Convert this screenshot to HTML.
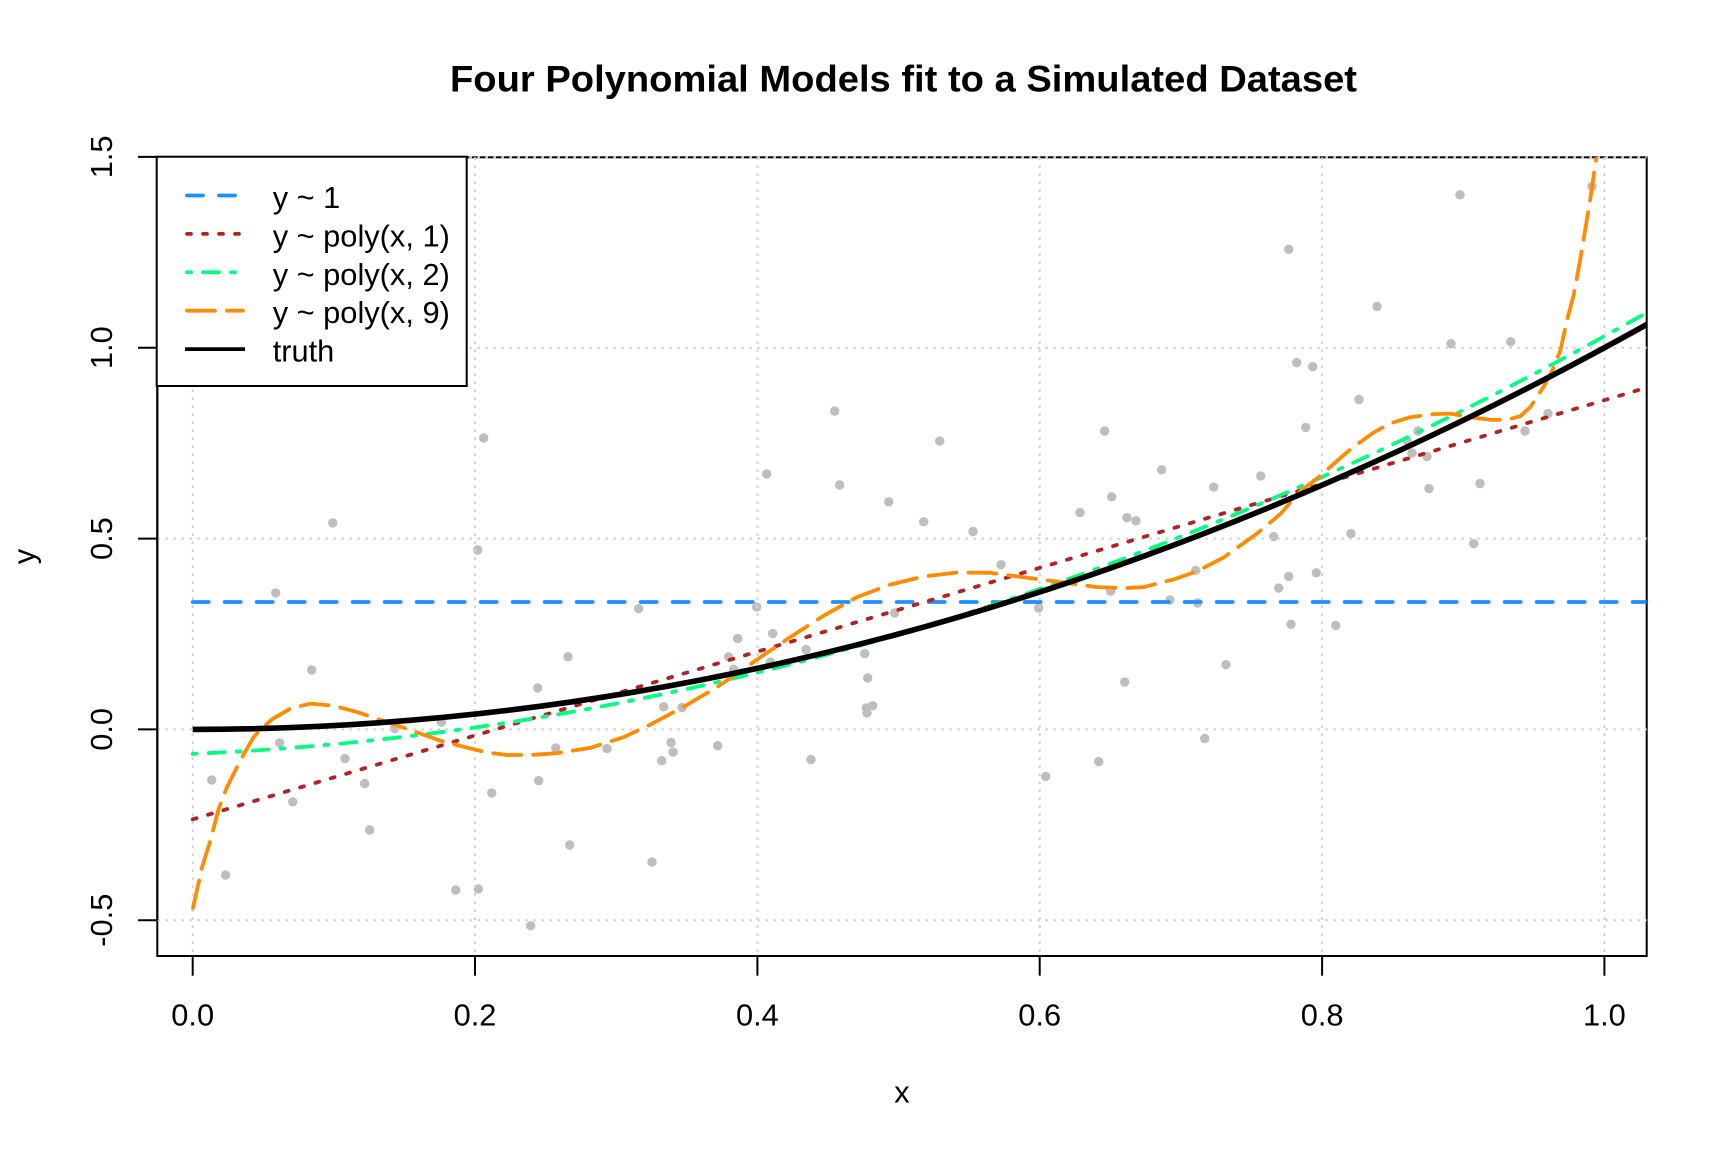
<!DOCTYPE html>
<html>
<head>
<meta charset="utf-8">
<style>
html,body{margin:0;padding:0;background:#fff;}
svg{display:block;}
text{font-family:"Liberation Sans",Arial,sans-serif;fill:#000;}
</style>
</head>
<body>
<svg width="1728" height="1152" viewBox="0 0 1728 1152" xmlns="http://www.w3.org/2000/svg">
<defs>
<clipPath id="pr"><rect x="157.3" y="157.3" width="1489.4" height="798.7"/></clipPath>
</defs>
<rect width="1728" height="1152" fill="#fff"/>

<!-- title -->
<text x="450" y="91.5" font-size="37.5" font-weight="bold" textLength="907" lengthAdjust="spacingAndGlyphs">Four Polynomial Models fit to a Simulated Dataset</text>

<!-- points -->
<g fill="#BEBEBE" clip-path="url(#pr)">
<circle cx="483.7" cy="437.9" r="4.7"/><circle cx="332.7" cy="522.9" r="4.7"/><circle cx="477.7" cy="550" r="4.7"/><circle cx="275.7" cy="592.9" r="4.7"/><circle cx="311.7" cy="670" r="4.7"/><circle cx="537.7" cy="687.9" r="4.7"/><circle cx="441.3" cy="722.1" r="4.7"/><circle cx="394.7" cy="728.6" r="4.7"/><circle cx="279.7" cy="742.9" r="4.7"/><circle cx="555.7" cy="747.9" r="4.7"/><circle cx="345" cy="758.6" r="4.7"/><circle cx="211.7" cy="780" r="4.7"/><circle cx="538.7" cy="780.7" r="4.7"/><circle cx="364.7" cy="783.6" r="4.7"/><circle cx="491.7" cy="792.9" r="4.7"/><circle cx="292.7" cy="801.8" r="4.7"/><circle cx="369.7" cy="830" r="4.7"/><circle cx="225.7" cy="875" r="4.7"/><circle cx="455.7" cy="890" r="4.7"/><circle cx="478.3" cy="888.9" r="4.7"/><circle cx="530.7" cy="925.7" r="4.7"/>
<circle cx="834.7" cy="411.1" r="4.7"/><circle cx="939.7" cy="441.1" r="4.7"/><circle cx="766.7" cy="473.9" r="4.7"/><circle cx="839.7" cy="485" r="4.7"/><circle cx="888.7" cy="501.8" r="4.7"/><circle cx="923.7" cy="521.8" r="4.7"/><circle cx="638.7" cy="608.6" r="4.7"/><circle cx="756.7" cy="607.1" r="4.7"/><circle cx="894.7" cy="612.9" r="4.7"/><circle cx="772.7" cy="633.6" r="4.7"/><circle cx="737.7" cy="638.6" r="4.7"/><circle cx="568" cy="656.8" r="4.7"/><circle cx="728.7" cy="656.8" r="4.7"/><circle cx="806" cy="649.6" r="4.7"/><circle cx="864.7" cy="653.6" r="4.7"/><circle cx="733.7" cy="669.3" r="4.7"/><circle cx="770.3" cy="662.1" r="4.7"/><circle cx="867.7" cy="677.9" r="4.7"/><circle cx="663.7" cy="706.8" r="4.7"/><circle cx="682" cy="707.5" r="4.7"/><circle cx="866.3" cy="707.9" r="4.7"/><circle cx="872.7" cy="705.7" r="4.7"/><circle cx="867" cy="712.9" r="4.7"/><circle cx="607" cy="748.6" r="4.7"/><circle cx="671" cy="742.5" r="4.7"/><circle cx="673" cy="752.1" r="4.7"/><circle cx="717.7" cy="745.7" r="4.7"/><circle cx="661.7" cy="760.7" r="4.7"/><circle cx="811" cy="759.6" r="4.7"/><circle cx="569.7" cy="845" r="4.7"/><circle cx="652" cy="862.1" r="4.7"/>
<circle cx="1288.7" cy="249.3" r="4.7"/><circle cx="1296.7" cy="362.6" r="4.7"/><circle cx="1312.7" cy="366.7" r="4.7"/><circle cx="1359" cy="399.5" r="4.7"/><circle cx="1305.7" cy="427.4" r="4.7"/><circle cx="1104.7" cy="431" r="4.7"/><circle cx="1161.7" cy="469.8" r="4.7"/><circle cx="1260.7" cy="475.9" r="4.7"/><circle cx="1111.7" cy="496.8" r="4.7"/><circle cx="1213.7" cy="487.1" r="4.7"/><circle cx="1080" cy="512.6" r="4.7"/><circle cx="1127" cy="517.7" r="4.7"/><circle cx="1136" cy="520.8" r="4.7"/><circle cx="973" cy="531.5" r="4.7"/><circle cx="1273.7" cy="536.6" r="4.7"/><circle cx="1351" cy="533.5" r="4.7"/><circle cx="1001" cy="564.7" r="4.7"/><circle cx="1195.7" cy="570.3" r="4.7"/><circle cx="1288.7" cy="576.4" r="4.7"/><circle cx="1316.3" cy="572.8" r="4.7"/><circle cx="1278.7" cy="588.1" r="4.7"/><circle cx="1110.7" cy="591.2" r="4.7"/><circle cx="1170" cy="599.9" r="4.7"/><circle cx="1038.7" cy="608" r="4.7"/><circle cx="1197.7" cy="602.9" r="4.7"/><circle cx="1291" cy="624.3" r="4.7"/><circle cx="1335.7" cy="625.4" r="4.7"/><circle cx="1226" cy="664.7" r="4.7"/><circle cx="1124.7" cy="682" r="4.7"/><circle cx="1204.7" cy="738.6" r="4.7"/><circle cx="1098.7" cy="761.6" r="4.7"/><circle cx="1045.7" cy="776.4" r="4.7"/>
<circle cx="1460" cy="194.8" r="4.7"/><circle cx="1592" cy="186.6" r="4.7"/><circle cx="1377" cy="306.5" r="4.7"/><circle cx="1451" cy="343.7" r="4.7"/><circle cx="1510.7" cy="341.7" r="4.7"/><circle cx="1407" cy="440.7" r="4.7"/><circle cx="1418" cy="431" r="4.7"/><circle cx="1412" cy="452.9" r="4.7"/><circle cx="1427" cy="456.5" r="4.7"/><circle cx="1548" cy="413.6" r="4.7"/><circle cx="1525" cy="431" r="4.7"/><circle cx="1429" cy="488.6" r="4.7"/><circle cx="1480" cy="483.5" r="4.7"/><circle cx="1473.7" cy="543.7" r="4.7"/>
</g>

<!-- box -->
<rect x="157.3" y="157.3" width="1489.4" height="798.7" fill="none" stroke="#000" stroke-width="2"/>

<!-- grid -->
<g stroke="#D3D3D3" stroke-width="2" stroke-dasharray="2.7 5.3" fill="none">
<line x1="192.7" y1="157.3" x2="192.7" y2="956"/>
<line x1="475" y1="157.3" x2="475" y2="956"/>
<line x1="757.4" y1="157.3" x2="757.4" y2="956"/>
<line x1="1039.7" y1="157.3" x2="1039.7" y2="956"/>
<line x1="1322.1" y1="157.3" x2="1322.1" y2="956"/>
<line x1="1604.4" y1="157.3" x2="1604.4" y2="956"/>
<line x1="157.3" y1="920.2" x2="1646.7" y2="920.2"/>
<line x1="157.3" y1="729.4" x2="1646.7" y2="729.4"/>
<line x1="157.3" y1="538.6" x2="1646.7" y2="538.6"/>
<line x1="157.3" y1="347.7" x2="1646.7" y2="347.7"/>
<line x1="157.3" y1="157.3" x2="1646.7" y2="157.3"/>
</g>

<!-- axes ticks -->
<g stroke="#000" stroke-width="2" fill="none">
<line x1="192.7" y1="956" x2="1604.4" y2="956"/>
<line x1="192.7" y1="956" x2="192.7" y2="975.7"/>
<line x1="475" y1="956" x2="475" y2="975.7"/>
<line x1="757.4" y1="956" x2="757.4" y2="975.7"/>
<line x1="1039.7" y1="956" x2="1039.7" y2="975.7"/>
<line x1="1322.1" y1="956" x2="1322.1" y2="975.7"/>
<line x1="1604.4" y1="956" x2="1604.4" y2="975.7"/>
<line x1="157.3" y1="156.9" x2="157.3" y2="920.2"/>
<line x1="138" y1="920.2" x2="157.3" y2="920.2"/>
<line x1="138" y1="729.4" x2="157.3" y2="729.4"/>
<line x1="138" y1="538.6" x2="157.3" y2="538.6"/>
<line x1="138" y1="347.7" x2="157.3" y2="347.7"/>
<line x1="138" y1="156.9" x2="157.3" y2="156.9"/>
</g>

<!-- tick labels -->
<g font-size="30.8" text-anchor="middle">
<text x="192.7" y="1025.5">0.0</text>
<text x="475" y="1025.5">0.2</text>
<text x="757.4" y="1025.5">0.4</text>
<text x="1039.7" y="1025.5">0.6</text>
<text x="1322.1" y="1025.5">0.8</text>
<text x="1604.4" y="1025.5">1.0</text>
<text transform="translate(112,920.2) rotate(-90)">-0.5</text>
<text transform="translate(112,729.4) rotate(-90)">0.0</text>
<text transform="translate(112,538.6) rotate(-90)">0.5</text>
<text transform="translate(112,347.7) rotate(-90)">1.0</text>
<text transform="translate(112,156.9) rotate(-90)">1.5</text>
<text x="902" y="1102.7">x</text>
<text transform="translate(34.5,556.6) rotate(-90)">y</text>
</g>

<!-- fitted lines -->
<g clip-path="url(#pr)" fill="none" stroke-linecap="round" stroke-linejoin="round">
<line x1="192.7" y1="602" x2="1662" y2="602" stroke="#1E90FF" stroke-width="3.8" stroke-dasharray="16 16"/>
<line x1="192.7" y1="819.3" x2="1660.9" y2="383.4" stroke="#B22222" stroke-width="3.8" stroke-dasharray="4 12"/>
<path d="M192.7,753.8 Q926.8,722.5 1660.9,304.6" stroke="#00FF7F" stroke-width="3.8" stroke-dasharray="4 12 16 12"/>
<path d="M193,907.9 L202,867.5 L210.3,840.7 L218.7,808.6 L227,787 L238.7,763.9 L244.3,753.2 L253.7,737.1 L262,728.2 L272,719.3 L290.3,708.6 L310.3,703.6 L333.7,705.7 L357,712.1 L383.7,721.1 L410.3,730 L440.3,740.7 L463.7,746.8 L487,752.5 L507,755 L530.3,755 L557,753.2 L590.3,747.9 L623.7,737.1 L650.3,724.6 L683.7,706.8 L717,687.1 L737,673.6 L763.7,655 L790.3,637.1 L823.7,615.7 L857,597.1 L890.3,584.6 L923.7,576.4 L957,572.5 L990.3,572.8 L1017,576.4 L1040.3,579.4 L1067,583 L1097,587.1 L1123.7,588.1 L1143.7,587.1 L1173.7,579.4 L1197,571.3 L1223.7,557.5 L1257,533.5 L1280.3,514.1 L1300.3,491.2 L1320.3,475.9 L1340.3,458 L1352,448 L1373.7,432.5 L1390.3,423.3 L1410.3,417.2 L1433.7,414.1 L1450.3,413.6 L1470.3,417.2 L1490.3,419.8 L1507,419.8 L1520.3,416.2 L1530.3,407 L1543.7,386.6 L1552,371.3 L1560.3,350.9 L1567,320.3 L1573.7,294.8 L1580.3,259 L1586.3,223.3 L1592,187.6 L1596.3,157 L1598.5,140" stroke="#FF8C00" stroke-width="3.8" stroke-dasharray="28 12"/>
<path d="M192.7,729.4 Q926.8,729.4 1660.9,316.6" stroke="#000" stroke-width="5.6" stroke-linecap="butt"/>
</g>

<!-- legend -->
<rect x="156.7" y="156.7" width="310" height="229.3" fill="#fff" stroke="#000" stroke-width="2"/>
<g fill="none" stroke-width="3.8" stroke-linecap="round">
<line x1="187" y1="195.5" x2="243" y2="195.5" stroke="#1E90FF" stroke-dasharray="16 16"/>
<line x1="187" y1="233.9" x2="243" y2="233.9" stroke="#B22222" stroke-dasharray="4 12"/>
<line x1="187" y1="272.3" x2="243" y2="272.3" stroke="#00FF7F" stroke-dasharray="4 12 16 12"/>
<line x1="187" y1="310.7" x2="243" y2="310.7" stroke="#FF8C00" stroke-dasharray="28 12"/>
<line x1="185" y1="349.1" x2="245" y2="349.1" stroke="#000" stroke-linecap="butt"/>
</g>
<g font-size="30.8">
<text x="272.7" y="208">y ~ 1</text>
<text x="272.7" y="246.4">y ~ poly(x, 1)</text>
<text x="272.7" y="284.8">y ~ poly(x, 2)</text>
<text x="272.7" y="323.2">y ~ poly(x, 9)</text>
<text x="272.7" y="361.6">truth</text>
</g>
</svg>
</body>
</html>
